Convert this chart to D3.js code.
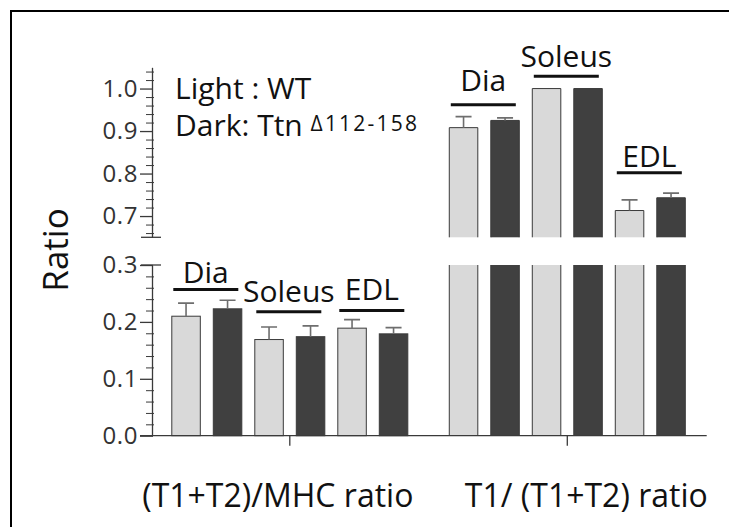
<!DOCTYPE html>
<html>
<head>
<meta charset="utf-8">
<script src="https://cdn.jsdelivr.net/npm/d3@7"></script>
<style>
  html, body { margin: 0; padding: 0; background: #fff; overflow: hidden; }
  svg { display: block; }
  text { font-family: "Open Sans", "Noto Sans", sans-serif; }
</style>
</head>
<body>
<svg id="chart" width="729" height="527"></svg>
<script>
// ---------------- data ----------------
const groups = ["(T1+T2)/MHC ratio", "T1/ (T1+T2) ratio"];
const muscles = ["Dia", "Soleus", "EDL"];
const genotypes = ["WT", "Ttn"];
// (T1+T2)/MHC ratio
const mhcWT = [0.210, 0.169, 0.189];
const mhcWTErr = [0.023, 0.022, 0.015];
const mhcKO = [0.223, 0.174, 0.179];
const mhcKOErr = [0.015, 0.019, 0.011];
// T1/(T1+T2) ratio
const t1WT = [0.908, 1.000, 0.713];
const t1WTErr = [0.026, 0.000, 0.025];
const t1KO = [0.925, 1.000, 0.743];
const t1KOErr = [0.006, 0.000, 0.011];
// y axis segments
const lowerDomain = [0, 0.3];
const upperDomain = [0.65, 1.05];
const lowerTicks = [0.0, 0.1, 0.2, 0.3];
const upperTicks = [0.7, 0.8, 0.9, 1.0];
// muscle label bracket levels (data units) per group
const bracketLevel = [[0.257, 0.218, 0.220], [0.962, 1.029, 0.802]];
const labelLevel = [[0.268, 0.2355, 0.2385], [0.994, 1.051, 0.816]];

// ---------------- build table ----------------
const table = [];
const series = [[mhcWT, mhcWTErr, mhcKO, mhcKOErr], [t1WT, t1WTErr, t1KO, t1KOErr]];
groups.forEach((g, gi) => {
  muscles.forEach((m, mi) => {
    genotypes.forEach((geno, ki) => {
      table.push({
        group: g, gi, muscle: m, mi, geno, ki,
        idx: mi * 2 + ki,
        value: series[gi][ki * 2][mi],
        err: series[gi][ki * 2 + 1][mi]
      });
    });
  });
});

// ---------------- layout ----------------
const svg = d3.select("#chart");
const axisX = 152;
const colLight = "#d9d9d9", colDark = "#404040", colEdge = "#3a3a3a";

const yLow = d3.scaleLinear().domain(lowerDomain).range([435.7, 265]);
const yHigh = d3.scaleLinear().domain(upperDomain).range([237.3, 67.3]);
const xGroup = d3.scaleBand().domain(groups).range([165.3, 691.8]).paddingInner(0.1027).paddingOuter(0);
const xBar = d3.scaleBand().domain(d3.range(6)).range([0, xGroup.bandwidth()])
  .paddingInner(0.313).paddingOuter(0.1565);
const bx = d => xGroup(d.group) + xBar(d.idx);
const bw = xBar.bandwidth();
const yOf = (v) => v <= lowerDomain[1] + 1e-9 ? yLow(v) : yHigh(v);

// outer frame (only top and left edges fall inside the picture)
svg.append("path").attr("d", "M11,540V11H740")
  .attr("fill", "none").attr("stroke", "#000").attr("stroke-width", 2);

// ---------------- bars ----------------
const gBars = svg.append("g");
table.forEach(d => {
  const x = bx(d), fill = d.ki === 0 ? colLight : colDark;
  if (d.value <= lowerDomain[1]) {
    gBars.append("rect").attr("x", x).attr("y", yLow(d.value))
      .attr("width", bw).attr("height", yLow(0) - yLow(d.value))
      .attr("fill", fill).attr("stroke", colEdge).attr("stroke-width", 1);
  } else {
    gBars.append("rect").attr("x", x).attr("y", yLow(lowerDomain[1]))
      .attr("width", bw).attr("height", yLow(0) - yLow(lowerDomain[1]))
      .attr("fill", fill);
    gBars.append("path")
      .attr("d", `M${x},${yLow(0)}V${yLow(lowerDomain[1])}M${x + bw},${yLow(0)}V${yLow(lowerDomain[1])}`)
      .attr("stroke", colEdge).attr("stroke-width", 1).attr("fill", "none");
    gBars.append("rect").attr("x", x).attr("y", yHigh(d.value))
      .attr("width", bw).attr("height", yHigh(upperDomain[0]) - yHigh(d.value))
      .attr("fill", fill);
    gBars.append("path")
      .attr("d", `M${x},${yHigh(upperDomain[0])}V${yHigh(d.value)}H${x + bw}V${yHigh(upperDomain[0])}`)
      .attr("stroke", colEdge).attr("stroke-width", 1).attr("fill", "none");
  }
  if (d.err > 0) {
    const cx = x + bw / 2, y0 = yOf(d.value), y1 = yOf(d.value + d.err);
    gBars.append("path")
      .attr("d", `M${cx},${y0}V${y1}M${cx - 8},${y1}H${cx + 8}`)
      .attr("stroke", "#6e6e6e").attr("stroke-width", 1.6).attr("fill", "none");
  }
});

// ---------------- y axes ----------------
function yAxis(scale, ticks, minor) {
  const g = svg.append("g").attr("transform", `translate(${axisX},0)`);
  g.call(d3.axisLeft(scale).tickValues(minor).tickSize(6).tickFormat("").tickSizeOuter(0))
    .call(a => a.selectAll(".tick line").attr("x2", -6).attr("x1", 2).attr("stroke", "#3a3a3a"))
    .call(a => a.select(".domain").attr("stroke", "#3a3a3a").attr("stroke-width", 1.3));
  const g2 = svg.append("g").attr("transform", `translate(${axisX},0)`);
  g2.call(d3.axisLeft(scale).tickValues(ticks).tickSize(12).tickPadding(2).tickSizeOuter(0)
      .tickFormat(d3.format(".1f")))
    .call(a => a.select(".domain").remove())
    .call(a => a.selectAll(".tick line").attr("x1", 1).attr("stroke", "#3a3a3a").attr("stroke-width", 1.3))
    .call(a => a.selectAll(".tick text").attr("font-size", 24).attr("fill", "#333")
      .attr("letter-spacing", 0.6).attr("font-family", "'Open Sans', sans-serif"));
}
const minorLow = d3.range(1, 15).map(i => +(i * 0.02).toFixed(2)).filter(v => Math.abs(v * 10 - Math.round(v * 10)) > 1e-6);
const minorHigh = d3.range(33, 53).map(i => +(i * 0.02).toFixed(2)).filter(v => v < 1.05 && Math.abs(v * 10 - Math.round(v * 10)) > 1e-6);
yAxis(yLow, lowerTicks, minorLow);
yAxis(yHigh, upperTicks, minorHigh);
[yHigh(upperDomain[0]), yLow(lowerDomain[1])].forEach(y => {
  svg.append("line").attr("x1", axisX - 11).attr("x2", axisX + 9).attr("y1", y).attr("y2", y)
    .attr("stroke", "#3a3a3a").attr("stroke-width", 1.3);
});

// ---------------- x axis ----------------
const gx = svg.append("g").attr("transform", `translate(0,${yLow(0)})`);
gx.call(d3.axisBottom(xGroup).tickSize(10).tickFormat("").tickSizeOuter(0))
  .call(a => a.select(".domain").remove())
  .call(a => a.selectAll(".tick line").attr("stroke", "#3a3a3a").attr("stroke-width", 1.3));
gx.append("line").attr("x1", 140).attr("x2", 706.7).attr("y1", 0).attr("y2", 0)
  .attr("stroke", "#3a3a3a").attr("stroke-width", 1.3);
const xLabelDx = [-12, 19];
groups.forEach((g, i) => {
  svg.append("text").attr("x", xGroup(g) + xGroup.bandwidth() / 2 + xLabelDx[i]).attr("y", 507)
    .attr("text-anchor", "middle").attr("font-size", 32).attr("fill", "#111").text(g);
});

// ---------------- muscle labels ----------------
groups.forEach((g, gi) => {
  const ys = gi === 0 ? yLow : yHigh;
  muscles.forEach((m, mi) => {
    const x0 = xGroup(g) + xBar(mi * 2) + 1.5;
    const x1 = xGroup(g) + xBar(mi * 2 + 1) + bw - 3.5;
    svg.append("line").attr("x1", x0).attr("x2", x1)
      .attr("y1", ys(bracketLevel[gi][mi])).attr("y2", ys(bracketLevel[gi][mi]))
      .attr("stroke", "#111").attr("stroke-width", 3);
    svg.append("text").attr("x", (x0 + x1) / 2).attr("y", ys(labelLevel[gi][mi]))
      .attr("text-anchor", "middle").attr("font-size", 30).attr("fill", "#111").text(m);
  });
});

// ---------------- legend ----------------
svg.append("text").attr("x", 175).attr("y", 99).attr("font-size", 30).attr("fill", "#111")
  .text("Light : WT");
const t2 = svg.append("text").attr("x", 175).attr("y", 136).attr("font-size", 30).attr("fill", "#111");
t2.append("tspan").text("Dark: Ttn ");
t2.append("tspan").attr("font-size", 21).attr("dy", -5).attr("letter-spacing", 2.2).text("\u0394112-158");

// y title
svg.append("text").attr("transform", "translate(68,250) rotate(-90)")
  .attr("text-anchor", "middle").attr("font-size", 35).attr("fill", "#111").text("Ratio");
</script>
</body>
</html>
